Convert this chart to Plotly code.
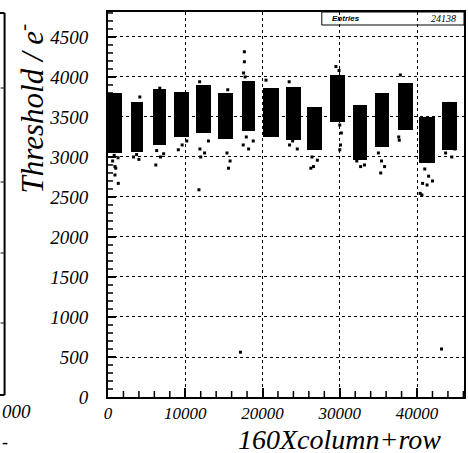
import plotly.graph_objects as go

# Per-chip threshold band (x range in 160*column+row units, y range in electrons)
chip_x0 = [0, 2925, 5840, 8500, 11430, 14300, 17300, 20000, 23030, 25810, 28690, 31700, 34620, 37500, 40200, 43210]
chip_x1 = [1770, 4550, 7560, 10480, 13360, 16150, 19070, 22070, 24960, 27750, 30630, 33550, 36430, 39430, 42270, 45140]
chip_lo = [3050, 3065, 3150, 3245, 3300, 3230, 3320, 3255, 3210, 3090, 3440, 2960, 3130, 3340, 2925, 3090]
chip_hi = [3800, 3690, 3845, 3815, 3900, 3795, 3950, 3860, 3880, 3630, 4030, 3650, 3795, 3920, 3505, 3690]

# Isolated pixels outside the dense bands
stray_x = [800, 1300, 600, 1000, 1330, 900, 900,
           3300, 4000, 3700, 4120,
           6700, 6300, 7200, 6800, 6190,
           9100, 10200, 9600,
           11860, 12500, 11900, 13000, 12000, 11770,
           15500, 15400, 15800, 15600,
           17650, 17650, 17550, 17750, 17500, 18200, 18800, 17900, 17140,
           20450, 23450, 23500, 24500, 23900,
           26400, 27100, 26600, 26250,
           29500, 29900, 30000, 30200, 30100, 30000,
           32200, 32700, 33200,
           35050, 35000, 35400, 35800, 35300,
           37840, 37630, 37700,
           41000, 41500, 42000, 41300, 40400, 40720, 40630,
           44070, 43700, 44500, 44900, 43170]
stray_y = [3020, 2990, 2950, 2860, 2670, 2880, 2775,
           3000, 2970, 3030, 3750,
           3860, 3080, 3040, 3000, 2900,
           3090, 3200, 3150,
           3940, 3050, 3100, 3200, 3000, 2590,
           3840, 3050, 2950, 2860,
           4190, 4315, 4050, 4000, 3150, 3100, 3200, 3250, 560,
           3960, 3940, 3150, 3100, 3200,
           3000, 2960, 2880, 2860,
           4130, 4080, 3400, 3300, 3150, 3090,
           2950, 2880, 2900,
           3775, 3050, 2950, 2880, 2800,
           4025, 3250, 3210,
           2850, 2760, 2700, 2650, 2545, 2670, 2525,
           3670, 3050, 3000, 3100, 600]

x_ticks = [0, 10000, 20000, 30000, 40000]
y_ticks = [0, 500, 1000, 1500, 2000, 2500, 3000, 3500, 4000, 4500]
x_range = [0, 46080]
y_range = [0, 4812]
entries_label = "Entries"
entries_value = "24138"

# Frame position in page pixels, used to place decorations
L, R, T, B = 108, 466, 12, 397
W, H = 468, 453

SERIF = "Liberation Serif, Times New Roman, serif"


def px(x):
    return (x - L) / (R - L)


def py(y):
    return (B - y) / (B - T)


centers = [(a + b) / 2 for a, b in zip(chip_x0, chip_x1)]
widths = [b - a for a, b in zip(chip_x0, chip_x1)]
heights = [h - l for l, h in zip(chip_lo, chip_hi)]

fig = go.Figure()
fig.add_trace(go.Bar(x=centers, y=heights, base=chip_lo, width=widths,
                     marker=dict(color="black", line=dict(width=0)),
                     showlegend=False, hoverinfo="skip"))
fig.add_trace(go.Scatter(x=stray_x, y=stray_y, mode="markers",
                         marker=dict(symbol="square", size=3, color="black",
                                     line=dict(width=0)),
                         showlegend=False, hoverinfo="skip"))

grid = dict(showgrid=True, gridcolor="black", gridwidth=1, griddash="3px,3px")

fig.update_xaxes(range=x_range, tickvals=x_ticks, ticktext=[str(v) for v in x_ticks],
                 ticks="inside", ticklen=9, tickwidth=1.5, tickcolor="black",
                 showline=True, linecolor="black", linewidth=2, mirror=True,
                 tickfont=dict(family=SERIF, size=17, color="black", style="italic"),
                 zeroline=False, **grid)
fig.update_yaxes(range=y_range, tickvals=y_ticks, ticktext=[str(v) for v in y_ticks],
                 ticks="inside", ticklen=8, tickwidth=1.5, tickcolor="black",
                 showline=True, linecolor="black", linewidth=2, mirror=True,
                 tickfont=dict(family=SERIF, size=19, color="black", style="italic"),
                 zeroline=False, ticklabelstandoff=14, **grid)

shapes = []
# Minor tick marks (ROOT style, drawn inside the frame) in page-fraction coordinates
plot_w, plot_h = R - L, B - T
for v in range(100, 4801, 100):
    if v % 500:
        yy = (v - y_range[0]) / (y_range[1] - y_range[0])
        shapes.append(dict(type="line", xref="paper", yref="paper", x0=0, x1=5 / plot_w,
                           y0=yy, y1=yy, line=dict(color="black", width=1.5)))
for v in range(2000, 46001, 2000):
    if v % 10000:
        xx = (v - x_range[0]) / (x_range[1] - x_range[0])
        shapes.append(dict(type="line", xref="paper", yref="paper", x0=xx, x1=xx,
                           y0=0, y1=6 / plot_h, line=dict(color="black", width=1.5)))

# Statistics box
shapes.append(dict(type="rect", xref="paper", yref="paper",
                   x0=px(323), x1=px(466), y0=py(25), y1=py(12),
                   line=dict(color="black", width=1), fillcolor="rgba(0,0,0,0)"))
# Edge of the neighbouring pad on the left
shapes.append(dict(type="line", xref="paper", yref="paper",
                   x0=px(4), x1=px(4), y0=py(395), y1=py(13),
                   line=dict(color="black", width=2)))
for yy in (13, 395):
    shapes.append(dict(type="line", xref="paper", yref="paper",
                       x0=px(-2), x1=px(4), y0=py(yy), y1=py(yy),
                       line=dict(color="black", width=2)))
for yy in (88, 182, 253, 323):
    shapes.append(dict(type="line", xref="paper", yref="paper",
                       x0=px(0), x1=px(3), y0=py(yy), y1=py(yy),
                       line=dict(color="black", width=1)))

annotations = [
    dict(text="160Xcolumn+row", xref="paper", yref="paper", x=px(237), y=py(439),
         xanchor="left", yanchor="middle", showarrow=False,
         font=dict(family=SERIF, size=28, color="black", style="italic")),
    dict(text="Threshold / e<sup>-</sup>", xref="paper", yref="paper", x=px(31), y=py(108),
         xanchor="center", yanchor="middle", textangle=-90, showarrow=False,
         font=dict(family=SERIF, size=31, color="black", style="italic")),
    dict(text=entries_label, xref="paper", yref="paper", x=px(331), y=py(18.5),
         xanchor="left", yanchor="middle", showarrow=False,
         font=dict(family="Liberation Sans, Arial, sans-serif", size=8, color="black",
                   style="italic", weight="bold")),
    dict(text=entries_value, xref="paper", yref="paper", x=px(460), y=py(18.5),
         xanchor="right", yanchor="middle", showarrow=False,
         font=dict(family=SERIF, size=10, color="black", style="italic")),
    dict(text="000", xref="paper", yref="paper", x=px(33), y=py(411),
         xanchor="right", yanchor="middle", showarrow=False,
         font=dict(family=SERIF, size=19, color="black", style="italic")),
    dict(text="-", xref="paper", yref="paper", x=px(-1), y=py(442),
         xanchor="left", yanchor="middle", showarrow=False,
         font=dict(family=SERIF, size=18, color="black")),
]

fig.update_layout(width=W, height=H,
                  margin=dict(l=L, r=W - R, t=T, b=H - B, pad=0),
                  paper_bgcolor="white", plot_bgcolor="white",
                  shapes=shapes, annotations=annotations, bargap=0)

fig.write_html("out.html")
